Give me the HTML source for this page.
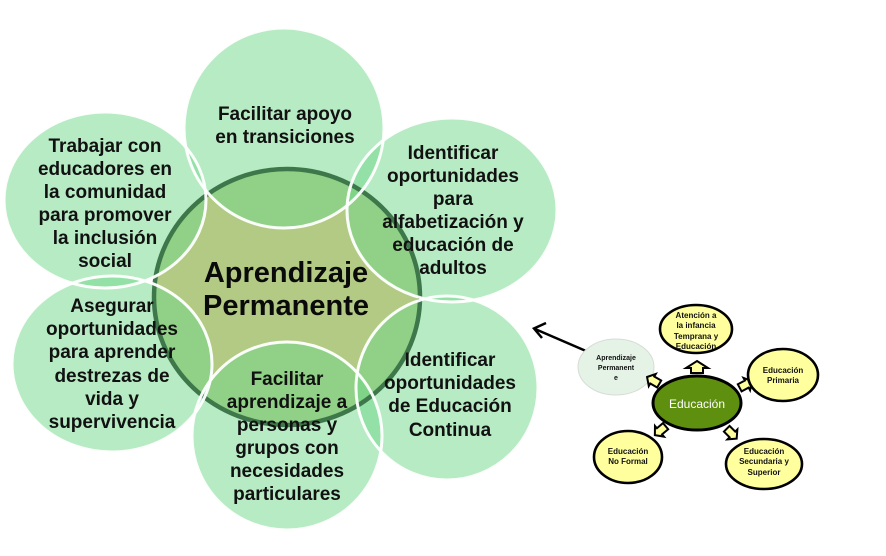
<!DOCTYPE html>
<html>
<head>
<meta charset="utf-8">
<style>
  html,body{margin:0;padding:0;background:#ffffff;}
  svg{display:block;}
  .t{font-family:"Liberation Sans",sans-serif;font-weight:bold;font-size:19px;fill:#111;text-anchor:middle;}
  .c{font-family:"Liberation Sans",sans-serif;font-weight:bold;font-size:29px;fill:#0a0a0a;text-anchor:middle;}
  .s{font-family:"Liberation Sans",sans-serif;font-weight:bold;font-size:8px;fill:#111;text-anchor:middle;}
  .s7{font-family:"Liberation Sans",sans-serif;font-weight:bold;font-size:7px;fill:#111;text-anchor:middle;}
</style>
</head>
<body>
<svg width="886" height="556" viewBox="0 0 886 556" xmlns="http://www.w3.org/2000/svg">
  <rect width="886" height="556" fill="#ffffff"/>

  <!-- central circle fill -->
  <ellipse cx="287" cy="297" rx="133" ry="128" fill="#b3ca84"/>

  <!-- outer circles fills (semi-transparent) -->
  <g fill="#6fd88a" fill-opacity="0.5">
    <ellipse cx="284" cy="128" rx="100" ry="100"/>
    <ellipse cx="105" cy="200" rx="101" ry="88"/>
    <ellipse cx="452" cy="210" rx="105" ry="92"/>
    <ellipse cx="112" cy="364" rx="100" ry="88"/>
    <ellipse cx="287" cy="436" rx="95" ry="94"/>
    <ellipse cx="447" cy="388" rx="91" ry="92"/>
  </g>

  <!-- central ring -->
  <ellipse cx="287" cy="297" rx="133" ry="128" fill="none" stroke="#3e784a" stroke-width="4.5"/>

  <!-- white outlines -->
  <g fill="none" stroke="#ffffff" stroke-width="3" stroke-opacity="0.95">
    <ellipse cx="284" cy="128" rx="100" ry="100"/>
    <ellipse cx="105" cy="200" rx="101" ry="88"/>
    <ellipse cx="452" cy="210" rx="105" ry="92"/>
    <ellipse cx="112" cy="364" rx="100" ry="88"/>
    <ellipse cx="287" cy="436" rx="95" ry="94"/>
    <ellipse cx="447" cy="388" rx="91" ry="92"/>
  </g>

  <!-- center text -->
  <text class="c" x="286" y="282">Aprendizaje</text>
  <text class="c" x="286" y="315">Permanente</text>

  <!-- top -->
  <text class="t" x="285" y="120">Facilitar  apoyo</text>
  <text class="t" x="285" y="143">en transiciones</text>

  <!-- upper left -->
  <text class="t" x="105" y="152">Trabajar  con</text>
  <text class="t" x="105" y="175">educadores en</text>
  <text class="t" x="105" y="198">la comunidad</text>
  <text class="t" x="105" y="221">para promover</text>
  <text class="t" x="105" y="244">la inclusión</text>
  <text class="t" x="105" y="267">social</text>

  <!-- upper right -->
  <text class="t" x="453" y="159">Identificar</text>
  <text class="t" x="453" y="182">oportunidades</text>
  <text class="t" x="453" y="205">para</text>
  <text class="t" x="453" y="228">alfabetización y</text>
  <text class="t" x="453" y="251">educación de</text>
  <text class="t" x="453" y="274">adultos</text>

  <!-- lower left -->
  <text class="t" x="112" y="312">Asegurar</text>
  <text class="t" x="112" y="335">oportunidades</text>
  <text class="t" x="112" y="358">para aprender</text>
  <text class="t" x="112" y="382">destrezas de</text>
  <text class="t" x="112" y="405">vida y</text>
  <text class="t" x="112" y="428">supervivencia</text>

  <!-- bottom -->
  <text class="t" x="287" y="385">Facilitar</text>
  <text class="t" x="287" y="408">aprendizaje a</text>
  <text class="t" x="287" y="431">personas y</text>
  <text class="t" x="287" y="454">grupos con</text>
  <text class="t" x="287" y="477">necesidades</text>
  <text class="t" x="287" y="500">particulares</text>

  <!-- lower right -->
  <text class="t" x="450" y="366">Identificar</text>
  <text class="t" x="450" y="389">oportunidades</text>
  <text class="t" x="450" y="412">de Educación</text>
  <text class="t" x="450" y="436">Continua</text>

  <!-- arrow to main diagram -->
  <line x1="586" y1="351" x2="535" y2="329" stroke="#000" stroke-width="2.5"/>
  <polyline points="546,323 534,328.5 542,338" fill="none" stroke="#000" stroke-width="2.5" stroke-linejoin="miter"/>

  <!-- small diagram -->
  <ellipse cx="616" cy="367" rx="38" ry="28" fill="#e5f3e7" stroke="#d6dcd6" stroke-width="1"/>
  <text class="s7" x="616" y="360">Aprendizaje</text>
  <text class="s7" x="616" y="370">Permanent</text>
  <text class="s7" x="616" y="380">e</text>

  <!-- Educación -->
  <ellipse cx="697" cy="403" rx="44" ry="27" fill="#5f8f0f" stroke="#000" stroke-width="3"/>
  <text x="697" y="408" font-family="Liberation Sans, sans-serif" font-size="12" fill="#ffffff" text-anchor="middle">Educación</text>

  <!-- block arrows -->
  <g fill="#ffff9e" stroke="#000" stroke-width="2" stroke-linejoin="miter">
    <polygon points="0,-6 11,1 6,1 6,6 -6,6 -6,1 -11,1" transform="translate(697,367)"/>
    <polygon points="0,-8 7,-2 4,-2 4,6 -4,6 -4,-2 -7,-2" transform="translate(745,385) rotate(62)"/>
    <polygon points="0,-8 7,-2 4,-2 4,6 -4,6 -4,-2 -7,-2" transform="translate(731,433) rotate(135)"/>
    <polygon points="0,-8 7,-2 4,-2 4,6 -4,6 -4,-2 -7,-2" transform="translate(661,430) rotate(-130)"/>
    <polygon points="0,-8 7,-2 4,-2 4,6 -4,6 -4,-2 -7,-2" transform="translate(654,381) rotate(-60)"/>
  </g>

  <!-- satellites -->
  <g fill="#ffff9e" stroke="#000" stroke-width="2.6">
    <ellipse cx="696" cy="329" rx="36" ry="24"/>
    <ellipse cx="783" cy="375" rx="35" ry="26"/>
    <ellipse cx="764" cy="464" rx="38" ry="25"/>
    <ellipse cx="628" cy="457" rx="34" ry="26"/>
  </g>
  <text class="s" x="696" y="318">Atención a</text>
  <text class="s" x="696" y="328">la infancia</text>
  <text class="s" x="696" y="339">Temprana y</text>
  <text class="s" x="696" y="349">Educación</text>

  <text class="s" x="783" y="373">Educación</text>
  <text class="s" x="783" y="383">Primaria</text>

  <text class="s" x="764" y="454">Educación</text>
  <text class="s" x="764" y="464">Secundaria y</text>
  <text class="s" x="764" y="475">Superior</text>

  <text class="s" x="628" y="454">Educación</text>
  <text class="s" x="628" y="464">No Formal</text>
</svg>
</body>
</html>
